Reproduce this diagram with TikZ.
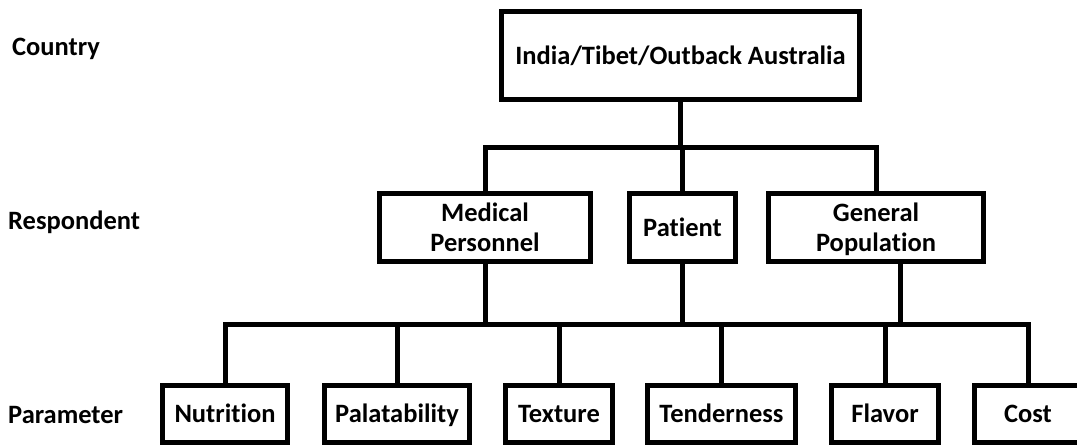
\documentclass[tikz,border=0pt]{standalone}
\usepackage{fontspec}
\setmainfont{Carlito}[Ligatures={NoCommon}]
\begin{document}
\begin{tikzpicture}[x=1pt,y=-1pt,
  every node/.style={font=\bfseries\fontsize{26.5}{30}\selectfont},
  box/.style={draw, line width=5pt, inner sep=0pt, align=center, minimum height=#1},
  one/.style={text height=17pt, text depth=0pt},
  two/.style={text depth=0pt},
  lvl/.style={anchor=base west, inner sep=0pt},
  conn/.style={line width=5pt}]
\useasboundingbox (0,0) rectangle (1077,447);
% level labels
\node[lvl] (lc) at (12,55) {Country};
\node[lvl] (lr) at (8,229) {Respondent};
\node[lvl] (lp) at (8,423) {Parameter};
% top
\node[box=88pt, one, minimum width=358pt] (top) at (680.5,55.5) {India/Tibet/Outback Australia};
% respondents
\node[box=68pt, two, minimum width=211pt] (med) at (485,227.5) {Medical\\Personnel};
\node[box=68pt, one, minimum width=106pt] (pat) at (682.5,227.5) {Patient};
\node[box=68pt, two, minimum width=215pt] (gen) at (876,227.5) {General\\Population};
% parameters
\node[box=57pt, one, minimum width=125pt] (nut) at (225,414) {Nutrition};
\node[box=57pt, one, minimum width=145pt] (pal) at (397,413.5) {Palatability};
\node[box=57pt, one, minimum width=107pt] (tex) at (559,414) {Texture};
\node[box=57pt, one, minimum width=148pt] (ten) at (721.5,414) {Tenderness};
\node[box=57pt, one, minimum width=107pt] (fla) at (885,414) {Flavor};
\node[box=57pt, one, minimum width=130pt] (cos) at (1039.5,414) {Cost\hspace*{23pt}};
% buses
\coordinate (bus1) at (682,147);
\coordinate (bus2) at (682,324);
\coordinate (cbus) at ([xshift=-11.5pt]cos.north |- bus2);
\draw[conn] (top.south) -- (top.south |- bus1);
\draw[conn] (med.north) -- (med.north |- bus1) -- (gen.north |- bus1) -- (gen.north);
\draw[conn] (pat.north) -- (pat.north |- bus1);
\draw[conn] (med.south) -- (med.south |- bus2);
\draw[conn] (pat.south) -- (pat.south |- bus2);
\draw[conn] ([xshift=24pt]gen.south) -- ([xshift=24pt]gen.south |- bus2);
\draw[conn] (nut.north) -- (nut.north |- bus2) -- (cbus) -- (cbus |- cos.north);
\draw[conn] (pal.north) -- (pal.north |- bus2);
\draw[conn] (tex.north) -- (tex.north |- bus2);
\draw[conn] (ten.north) -- (ten.north |- bus2);
\draw[conn] (fla.north) -- (fla.north |- bus2);
\end{tikzpicture}
\end{document}
